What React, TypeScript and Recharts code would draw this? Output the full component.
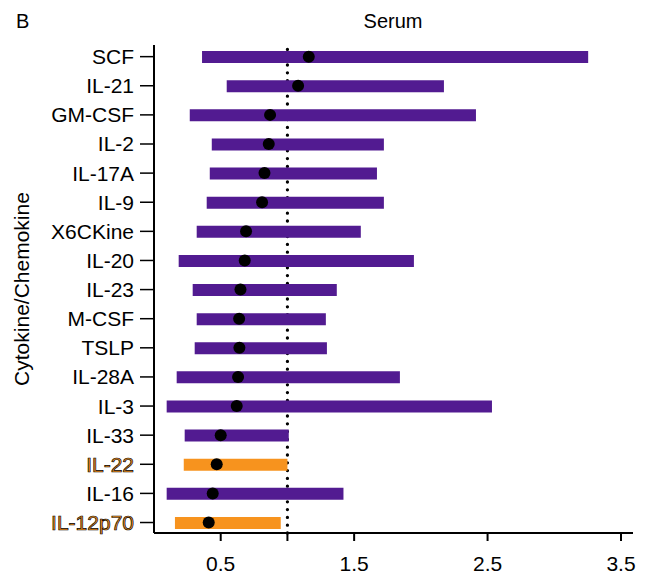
import React from 'react';
import { ComposedChart, Bar, Scatter, XAxis, YAxis, ReferenceLine, Cell } from 'recharts';

const categories = ['SCF', 'IL-21', 'GM-CSF', 'IL-2', 'IL-17A', 'IL-9', 'X6CKine', 'IL-20', 'IL-23', 'M-CSF', 'TSLP', 'IL-28A', 'IL-3', 'IL-33', 'IL-22', 'IL-16', 'IL-12p70'];
const lower = [0.36, 0.545, 0.268, 0.433, 0.418, 0.395, 0.32, 0.185, 0.29, 0.32, 0.305, 0.17, 0.095, 0.23, 0.223, 0.095, 0.157];
const upper = [3.254, 2.173, 2.413, 1.723, 1.671, 1.723, 1.55, 1.948, 1.37, 1.288, 1.296, 1.843, 2.533, 1.01, 1.0, 1.42, 0.95];
const estimate = [1.16, 1.08, 0.87, 0.86, 0.828, 0.81, 0.69, 0.68, 0.648, 0.638, 0.64, 0.63, 0.62, 0.5, 0.47, 0.44, 0.41];
const highlighted = ['IL-22', 'IL-12p70'];
const xTicks = [0.5, 1, 1.5, 2.5, 3.5];
const xTickLabels = ['0.5', '', '1.5', '2.5', '3.5'];
const referenceValue = 1;

const PURPLE = '#521b91';
const ORANGE = '#f7931e';
const FONT = '"Liberation Sans", Arial, Helvetica, sans-serif';

const X_DOMAIN: [number, number] = [0, 3.59];
const Y_DOMAIN: [number, number] = [-0.4, 16.36];
const W = 634;
const H = 570;
const MARGIN = { top: 37, right: 9, bottom: 0, left: 0 };

const data = categories.map((name, i) => ({
  name,
  idx: i,
  range: [lower[i], upper[i]],
  est: estimate[i],
  hl: highlighted.includes(name),
}));

const YTick = (props: any) => {
  const { x, y, payload } = props;
  const name = categories[payload.value];
  const hl = highlighted.includes(name);
  return (
    <text
      x={x}
      y={y}
      dy="0.355em"
      textAnchor="end"
      fontSize={21}
      fontFamily={FONT}
      fill={hl ? ORANGE : '#000'}
      stroke={hl ? '#000' : 'none'}
      strokeWidth={hl ? 0.7 : 0}
    >
      {name}
    </text>
  );
};

const Dot = (props: any) => {
  const { cx, cy } = props;
  if (cx == null || cy == null) return null;
  return <circle cx={cx} cy={cy} r={6} fill="#000" />;
};

export default function App() {
  return (
    <div style={{ position: 'relative', width: W, height: H, fontFamily: FONT }}>
      <div style={{ position: 'absolute', left: 8, top: 3, fontSize: 20, lineHeight: '20px' }}>B</div>
      <div style={{ position: 'absolute', left: 345, width: 80, textAlign: 'center', top: 3, fontSize: 20, lineHeight: '20px' }}>Serum</div>
      {/* underlay: dotted reference line, drawn behind the bars */}
      <div style={{ position: 'absolute', left: 0, top: 0 }}>
        <ComposedChart width={W} height={H} layout="vertical" data={data} margin={MARGIN}>
          <XAxis type="number" domain={X_DOMAIN} allowDataOverflow ticks={xTicks} height={45} tick={false} axisLine={false} tickLine={false} />
          <YAxis type="number" dataKey="idx" domain={Y_DOMAIN} allowDataOverflow width={146} tick={false} axisLine={false} tickLine={false} />
          <ReferenceLine
            x={referenceValue}
            stroke="#000"
            strokeWidth={3.3}
            strokeDasharray="0 7.8"
            strokeLinecap="round"
          />
        </ComposedChart>
      </div>
      <div style={{ position: 'absolute', left: 0, top: 0 }}>
        <ComposedChart width={W} height={H} layout="vertical" data={data} margin={MARGIN}>
          <XAxis
            type="number"
            domain={X_DOMAIN}
            allowDataOverflow
            ticks={xTicks}
            tickFormatter={(v: number) => xTickLabels[xTicks.indexOf(v)] ?? ''}
            height={45}
            tickSize={8}
            tickMargin={15}
            axisLine={{ stroke: '#000', strokeWidth: 2 }}
            tickLine={{ stroke: '#000', strokeWidth: 2 }}
            tick={{ fill: '#000', fontSize: 21, fontFamily: FONT }}
          />
          <YAxis
            type="number"
            dataKey="idx"
            domain={Y_DOMAIN}
            allowDataOverflow
            ticks={categories.map((_, i) => i)}
            interval={0}
            width={146}
            tickSize={14}
            tickMargin={6}
            axisLine={{ stroke: '#000', strokeWidth: 2 }}
            tickLine={{ stroke: '#000', strokeWidth: 1.5 }}
            tick={<YTick />}
            label={{
              value: 'Cytokine/Chemokine',
              angle: -90,
              position: 'insideLeft',
              offset: 14,
              style: { textAnchor: 'middle', fontSize: 21, fontFamily: FONT, fill: '#000' },
            }}
          />
          <Bar dataKey="range" barSize={12} isAnimationActive={false}>
            {data.map((d, i) => (
              <Cell key={i} fill={d.hl ? ORANGE : PURPLE} />
            ))}
          </Bar>
          <Scatter dataKey="est" shape={<Dot />} isAnimationActive={false} />
        </ComposedChart>
      </div>
    </div>
  );
}
